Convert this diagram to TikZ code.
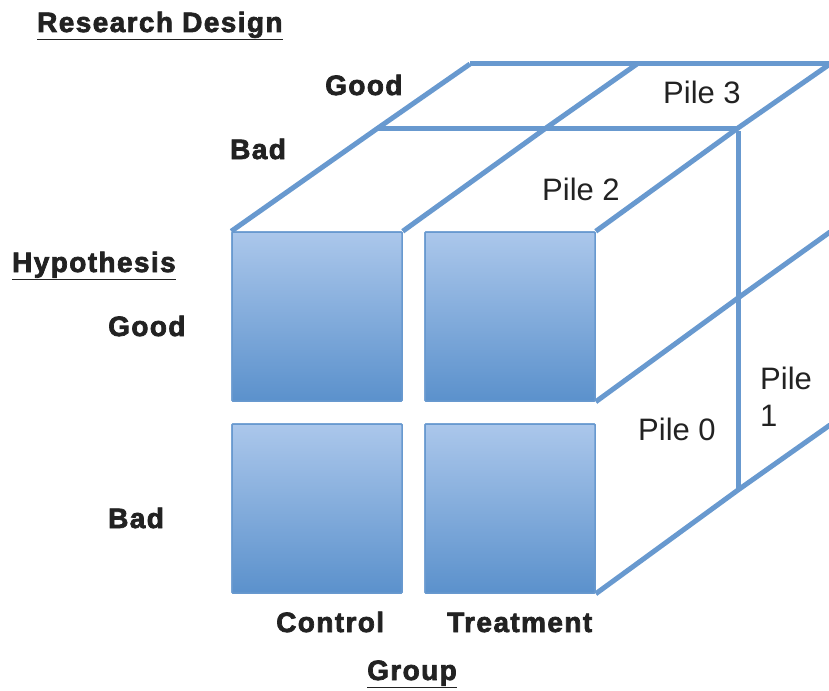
\documentclass[tikz,border=0pt]{standalone}
\usepackage{fontspec}
\setmainfont{Liberation Sans}
\newfontfamily\lblfont[LetterSpace=5,FakeBold=2.5]{Liberation Sans Bold}
\usetikzlibrary{calc,positioning}
\definecolor{edgeblue}{RGB}{104,153,207}
\definecolor{celltop}{RGB}{171,199,235}
\definecolor{cellbot}{RGB}{91,145,204}
\definecolor{inkgray}{RGB}{34,34,34}

\begin{document}
\begin{tikzpicture}[x=1pt,y=-1pt,
  edge/.style={draw=edgeblue,line width=5pt},
  cell/.style={draw=edgeblue,line width=1.5pt,top color=celltop,bottom color=cellbot,
    minimum width=170pt,minimum height=169pt,inner sep=0pt,rounded corners=1pt},
  lbl/.style={font=\lblfont\fontsize{28}{32}\selectfont,text=inkgray,inner sep=0pt,anchor=base west},
  pile/.style={font=\fontsize{31}{37}\selectfont,text=inkgray,inner sep=0pt,align=left}]
  \useasboundingbox (0,0) rectangle (829,690);
  \clip (0,0) rectangle (829,690);
  % Front cells
  \node[cell] (cgood) at (317,316.5) {};
  \node[cell] (tgood) at (510,316.5) {};
  \node[cell] (cbad) at (317,508.5) {};
  \node[cell] (tbad) at (510,508.5) {};
  % Depth layers
  \coordinate (B1) at (378,128);
  \coordinate (B2) at (546,128);
  \coordinate (B3) at (738,128);
  \coordinate (C1) at (470,64);
  \coordinate (C2) at (637,64);
  \coordinate (C3) at (830,64);
  \coordinate (S1) at (738,298);
  \coordinate (T1) at (830,232);
  \coordinate (S2) at (738,490);
  \coordinate (T2) at (830,425);
  % Top face
  \draw[edge] (cgood.north west) -- (B1) -- (C1);
  \draw[edge] (cgood.north east) -- (B2) -- (C2);
  \draw[edge] (tgood.north east) -- (B3) -- (C3);
  \draw[edge] (B1) -- (B3);
  \draw[edge] (C1) -- (C3);
  % Right face
  \draw[edge] (tgood.south east) -- (S1) -- (T1);
  \draw[edge] (tbad.south east) -- (S2) -- (T2);
  \draw[edge] ($(B3)+(0,3)$) -- (S2);
  % Redraw cells above the edges
  \node[cell] at (cgood) {};
  \node[cell] at (tgood) {};
  \node[cell] at (cbad) {};
  \node[cell] at (tbad) {};
  % Labels
  \node[lbl] (design) at (37,32) {\underline{Research Design}};
  \node[lbl] (hypo) at (12,272) {\underline{Hypothesis}};
  \node[lbl] (hgood) at (108,336) {Good};
  \node[lbl] (hbad) at (108,528) {Bad};
  \node[lbl] (dgood) at (325,95) {Good};
  \node[lbl] (dbad) at (230,159) {Bad};
  \node[lbl] (ctrl) at (276,632) {Control};
  \node[lbl] (treat) at (447,632) {Treatment};
  \node[lbl] (group) at (367,680) {\underline{Group}};
  \node[pile,anchor=base west] (pile3) at (663,103) {Pile 3};
  \node[pile,anchor=base west] (pile2) at (542,200) {Pile 2};
  \node[pile,anchor=base west] (pile0) at (638,440) {Pile 0};
  \node[pile,anchor=north west] (pile1) at (760,367) {Pile\\1};
\end{tikzpicture}
\end{document}
